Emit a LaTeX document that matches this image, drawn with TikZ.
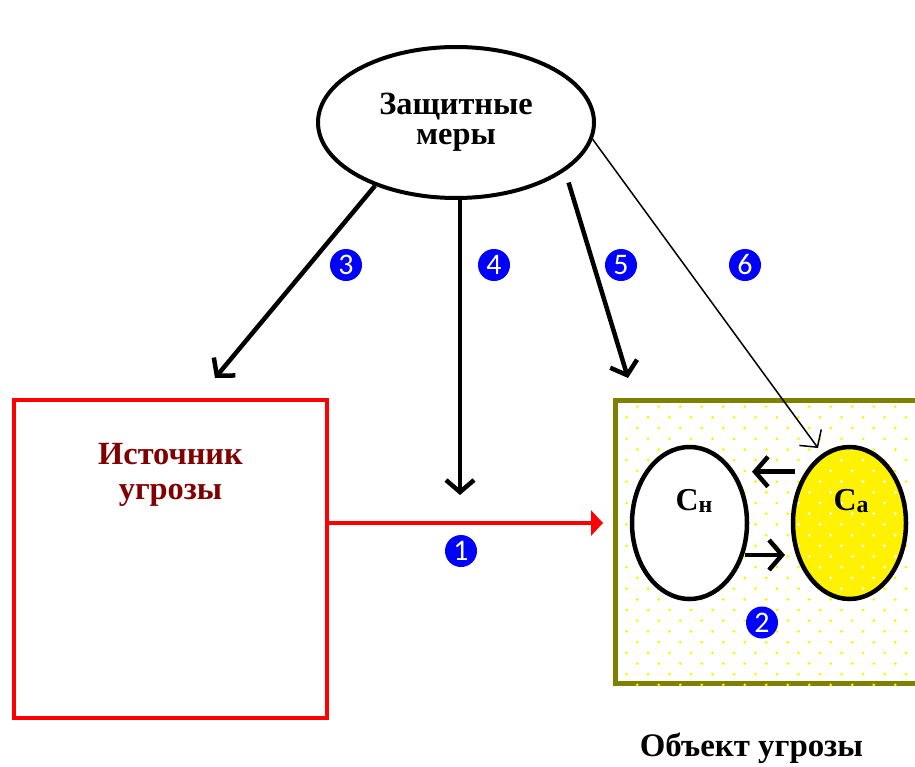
\documentclass[tikz,border=0pt]{standalone}
\usepackage{fontspec}
\setmainfont{Liberation Serif}
\newfontfamily\numfont{Carlito}
\usetikzlibrary{shapes,arrows.meta}
\definecolor{darkred}{RGB}{128,0,0}
\definecolor{olivebox}{RGB}{128,128,0}
\newcommand{\dotgrid}[1]{%
  \foreach \i in {0,...,13}{%
    \foreach \j in {0,...,14}{%
      \pgfmathsetmacro{\xa}{637.25+21.5*\j}%
      \pgfmathsetmacro{\xb}{626.5+21.5*\j}%
      \pgfmathsetmacro{\ya}{-406.7-21.4*\i}%
      \pgfmathsetmacro{\yb}{-417.4-21.4*\i}%
      \fill[#1] (\xa bp,\ya bp) circle (1.5bp);
      \fill[#1] (\xb bp,\yb bp) circle (1.5bp);
    }}}
\tikzset{
  bigtext/.style={font=\bfseries\fontsize{32.5}{#1}\selectfont,align=center},
  num/.style={circle,fill=blue,text=white,inner sep=0pt,minimum size=32bp,font=\numfont\fontsize{30}{30}\selectfont},
  thickarr/.style={-{Straight Barb[length=12bp,width=28bp]},line width=4.5bp},
}
\newcommand{\sub}[1]{\raisebox{-0.2ex}{\fontsize{24}{24}\selectfont #1}}

\begin{document}
\begin{tikzpicture}
\useasboundingbox (0bp,0bp) rectangle (915bp,-767bp);

\node (mery) at (456bp,-122.5bp)[draw,ellipse,line width=4bp,minimum width=276bp,minimum height=151bp,inner sep=0pt,bigtext=30] {Защитные\\меры};
\node (ist) at (170.5bp,-559bp)[draw=red,line width=4bp,minimum width=313bp,minimum height=318bp] {};
\node (istlbl) at (170.5bp,-475bp)[bigtext=35,text=darkred] {Источник\\угрозы};
\node (obj) at (768bp,-541.75bp)[draw=olivebox,fill=white,line width=5bp,minimum width=305bp,minimum height=283.5bp] {};
\begin{scope}
\clip (obj.south west) rectangle (obj.north east);
\dotgrid{yellow}
\end{scope}
\node (cn) at (689.5bp,-523bp)[draw,ellipse,fill=white,line width=4.5bp,minimum width=115bp,minimum height=152bp] {};
\node (ca) at (849.5bp,-523bp)[draw,ellipse,fill=yellow,line width=4.5bp,minimum width=113bp,minimum height=152bp] {};
\begin{scope}
\clip (ca.center) ellipse [x radius=53.5bp,y radius=73bp];
\dotgrid{white}
\end{scope}
\node (cnlbl) at (694bp,-510bp)[anchor=base,font=\bfseries\fontsize{32}{32}\selectfont] {С\sub{н}};
\node (calbl) at (851bp,-510bp)[anchor=base,font=\bfseries\fontsize{32}{32}\selectfont] {С\sub{а}};
\node (objlbl) at (751.5bp,-756.7bp)[anchor=base,font=\bfseries\fontsize{33}{33}\selectfont] {Объект угрозы};

\node (n3) at (346bp,-265bp)[num] {3};
\node (n4) at (494bp,-265bp)[num] {4};
\node (n5) at (621bp,-265bp)[num] {5};
\node (n6) at (745bp,-265bp)[num] {6};
\node (n1) at (461bp,-551bp)[num] {1};
\node (n2) at (762bp,-622.5bp)[num] {2};

\coordinate (e3) at (215bp,-378bp);
\coordinate (e4) at (460bp,-495bp);
\coordinate (e5) at (628bp,-378bp);
\coordinate (e6) at (818bp,-448bp);
\coordinate (e1) at (603bp,-523bp);
\draw [thickarr] (mery.218) to (e3);
\draw [thickarr] (mery.south -| e4) to (e4);
\draw [thickarr,shorten <=12bp] (mery.336) to (e5);
\draw [-{Straight Barb[length=12bp,width=27bp]},line width=1.5bp] (mery.353) to (e6);
\draw [-{Triangle[length=12bp,width=25bp]},draw=red,fill=red,line width=4.5bp] (ist.east |- e1) to (e1);

\coordinate (a1) at (795bp,-471.7bp);
\coordinate (a2) at (752bp,-471.7bp);
\coordinate (b1) at (745bp,-555bp);
\coordinate (b2) at (785bp,-555bp);
\draw [thickarr,-{Straight Barb[length=13bp,width=30bp]}] (a1) to (a2);
\draw [thickarr,-{Straight Barb[length=13bp,width=30bp]}] (b1) to (b2);
\end{tikzpicture}
\end{document}
